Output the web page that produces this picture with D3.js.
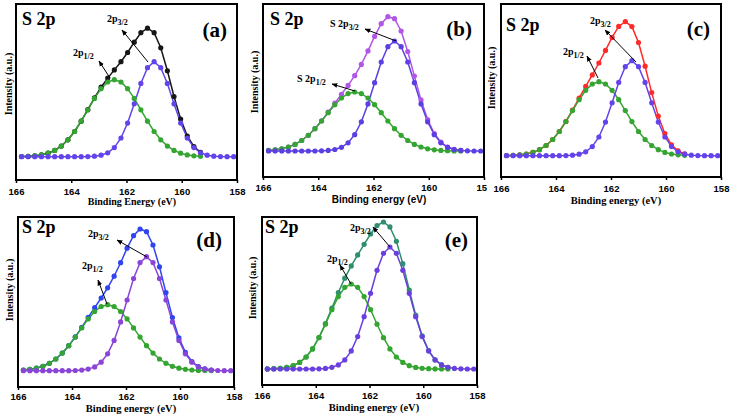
<!DOCTYPE html>
<html>
<head>
<meta charset="utf-8">
<script src="https://cdn.jsdelivr.net/npm/d3@7"></script>
<style>
  body { margin: 0; background: #fff; }
  svg { display: block; }
</style>
</head>
<body>
<div id="chart"></div>
<script>
// Binding energy grid (eV), shared by every fit
var energy = [165.8, 165.56, 165.32, 165.08, 164.84, 164.6, 164.36, 164.12, 163.88, 163.64,
  163.4, 163.16, 162.92, 162.68, 162.44, 162.2, 161.96, 161.72, 161.48, 161.24,
  161.0, 160.76, 160.52, 160.28, 160.04, 159.8, 159.56, 159.32, 159.08, 158.84,
  158.6, 158.36, 158.12];

var xTicks = [166, 164, 162, 160, 158];
var panelLabels = ["(a)", "(b)", "(c)", "(d)", "(e)"];

// (a) S 2p1/2, S 2p3/2 and envelope (intensity above background, a.u.)
var a12 = [0.2, 0.4, 0.9, 1.8, 3.5, 6.3, 10.6, 16.9, 25.2, 35.5, 46.9, 58.3, 68.0, 74.7, 77,
  74.7, 68.0, 58.3, 46.9, 35.5, 25.2, 16.9, 10.6, 6.3, 3.5, 1.8, 0.9, 0.4];
var a32 = [0, 0, 0, 0, 0, 0, 0, 0, 0, 0, 0.1, 0.5, 1.5, 3.9, 9.1, 18.7, 33.6, 52.9, 73.3, 89.0,
  95, 89.0, 73.3, 52.9, 33.6, 18.7, 9.1, 3.9, 1.5, 0.5, 0.1, 0, 0];
var aEnv = [0.2, 0.4, 0.9, 1.8, 3.5, 6.3, 10.6, 16.9, 25.2, 35.5, 47.0, 58.8, 69.5, 78.6, 86.8,
  95.0, 104.2, 114.5, 124.0, 128.5, 124.0, 108.9, 85.9, 60.2, 37.6, 20.7, 10.1, 4.3];

// (b)
var b12 = [0.6, 1.2, 2.2, 4.0, 6.6, 10.5, 15.7, 22.3, 30.0, 38.3, 46.3, 53.0, 57.4, 59, 57.4,
  53.0, 46.3, 38.3, 30.0, 22.3, 15.7, 10.5, 6.6, 4.0, 2.2, 1.2, 0.6, 0.3, 0.1, 0.1];
var b32 = [0, 0, 0, 0, 0, 0, 0, 0, 0.2, 0.6, 1.5, 3.7, 8.2, 16.3, 29.2, 47.1, 68.3, 89.0, 104.3, 110,
  104.3, 89.0, 68.3, 47.1, 29.2, 16.3, 8.2, 3.7, 1.5, 0.6, 0.2, 0, 0];
var bEnv = [0.6, 1.2, 2.2, 4.0, 6.6, 10.5, 15.7, 22.3, 30.2, 38.9, 47.8, 56.7, 65.6, 75.3, 86.6,
  100.1, 114.6, 127.3, 134.3, 132.3, 120.0, 99.5, 74.9, 51.1, 31.4, 17.5, 8.8, 4.0, 1.6, 0.7];

// (c)
var c12 = [0.2, 0.4, 0.9, 1.7, 3.3, 6.0, 10.2, 16.2, 24.2, 34.1, 45.1, 56.0, 65.4, 71.7, 74,
  71.7, 65.4, 56.0, 45.1, 34.1, 24.2, 16.2, 10.2, 6.0, 3.3, 1.7, 0.9, 0.4];
var c32 = [0, 0, 0, 0, 0, 0, 0, 0, 0, 0.1, 0.5, 1.5, 3.9, 9.1, 18.7, 33.6, 52.9, 73.3, 89.0, 95,
  89.0, 73.3, 52.9, 33.6, 18.7, 9.1, 3.9, 1.5, 0.5, 0.1, 0, 0, 0];
var cEnv = [0.2, 0.4, 0.9, 1.7, 3.3, 6.0, 10.2, 16.2, 24.2, 34.2, 45.6, 57.5, 69.3, 80.8, 92.7,
  105.3, 118.3, 129.3, 134.1, 129.1, 113.2, 89.5, 63.1, 39.6, 22.0, 10.8, 4.8, 1.9];

// (d)
var d12 = [0.7, 1.4, 2.5, 4.4, 7.4, 11.7, 17.6, 25.0, 33.6, 42.8, 51.8, 59.2, 64.2, 66, 64.2,
  59.2, 51.8, 42.8, 33.6, 25.0, 17.6, 11.7, 7.4, 4.4, 2.5, 1.4, 0.7, 0.3, 0.2, 0.1];
var d32 = [0, 0, 0, 0, 0, 0, 0, 0, 0.2, 0.6, 1.6, 3.8, 8.5, 16.9, 30.3, 48.8, 70.7, 92.2, 108.1, 114,
  108.1, 92.2, 70.7, 48.8, 30.3, 16.9, 8.5, 3.8, 1.6, 0.6, 0.2, 0, 0];
var dEnv = [0.7, 1.4, 2.5, 4.4, 7.4, 11.7, 17.6, 25.0, 33.8, 43.4, 53.4, 63.0, 72.7, 82.9, 94.5,
  108.0, 122.5, 135.0, 141.7, 139.0, 125.7, 103.9, 78.1, 53.2, 32.8, 18.3, 9.2, 4.1, 1.8, 0.7];

// (e)
var e12 = [0.1, 0.3, 0.7, 1.6, 3.3, 6.6, 12.0, 20.1, 31.3, 44.8, 59.3, 72.4, 81.7, 85, 81.7,
  72.4, 59.3, 44.8, 31.3, 20.1, 12.0, 6.6, 3.3, 1.6, 0.7, 0.3, 0.1, 0, 0];
var e32 = [0, 0, 0, 0, 0, 0, 0, 0, 0.2, 0.6, 1.7, 4.1, 9.1, 18.1, 32.4, 52.3, 75.7, 98.7, 115.7, 122,
  115.7, 98.7, 75.7, 52.3, 32.4, 18.1, 9.1, 4.1, 1.7, 0.6, 0.2, 0, 0];
var eEnv = [0.1, 0.3, 0.7, 1.6, 3.3, 6.6, 12.0, 20.1, 31.5, 45.4, 61.0, 76.5, 90.8, 103.1, 114.1,
  124.7, 135.0, 143.5, 147.0, 142.1, 127.7, 105.3, 79.0, 53.9, 33.1, 18.4, 9.2, 4.1, 1.7];

var serif = "'Liberation Serif', 'DejaVu Serif', serif";
var sans = "'Liberation Sans', Arial, sans-serif";
var green = "#33a530";

// layout of each panel (pixels) and its colours
var panels = [
  { p12: a12, p32: a32, env: aEnv, envColor: "#161616", p32Color: "#6343ec",
    x0: 16, x1: 237, y0: 4, y1: 180, yDomain: [-23.3, 152.7],
    tickY: 195, titleY: 205, titleX: 132, title: "Binding Energy (eV)", titleFont: serif, titleSize: 10,
    yTitleX: 12, yTitleY: 84, sX: 22, sY: 25, labX: 227, labY: 37, prefix: "",
    t32: [107, 22], ar32: [[148, 62], [122, 30]], t12: [73, 56], ar12: [[110, 78], [99, 61]] },
  { p12: b12, p32: b32, env: bEnv, envColor: "#b256e8", p32Color: "#5b3fe2",
    x0: 263, x1: 484, y0: 4, y1: 177, yDomain: [-26, 147],
    tickY: 191, titleY: 203, titleX: 379, title: "Binding energy (eV)", titleFont: sans, titleSize: 10,
    yTitleX: 258, yTitleY: 82, sX: 270, sY: 25, labX: 472, labY: 36, prefix: "S ",
    t32: [330, 27], ar32: [[396, 41], [365, 29]], t12: [297, 82], ar12: [[355, 91], [332, 84]] },
  { p12: c12, p32: c32, env: cEnv, envColor: "#ff2a2a", p32Color: "#6343ec",
    x0: 501, x1: 721, y0: 4, y1: 177, yDomain: [-21.3, 151.7],
    tickY: 192, titleY: 204, titleX: 616, title: "Binding energy (eV)", titleFont: serif, titleSize: 10.5,
    yTitleX: 495, yTitleY: 78, sX: 506, sY: 31, labX: 710, labY: 36, prefix: "",
    t32: [590, 24], ar32: [[636, 62], [605, 30]], t12: [563, 55], ar12: [[598, 78], [587, 56]] },
  { p12: d12, p32: d32, env: dEnv, envColor: "#3045f0", p32Color: "#8a45d8",
    x0: 18, x1: 234, y0: 217, y1: 387, yDomain: [-16.3, 153.7],
    tickY: 400, titleY: 412, titleX: 131, title: "Binding energy (eV)", titleFont: serif, titleSize: 10.5,
    yTitleX: 13, yTitleY: 290, sX: 22, sY: 233, labX: 222, labY: 247, prefix: "",
    t32: [88, 237], ar32: [[147, 257], [117, 240]], t12: [82, 269], ar12: [[107, 304], [98, 280]] },
  { p12: e12, p32: e32, env: eEnv, envColor: "#2f8f6c", p32Color: "#6a3fe0",
    x0: 262, x1: 477, y0: 217, y1: 385, yDomain: [-16, 152],
    tickY: 399, titleY: 411, titleX: 374, title: "Binding energy (eV)", titleFont: serif, titleSize: 10.5,
    yTitleX: 256, yTitleY: 288, sX: 265, sY: 233, labX: 468, labY: 247, prefix: "",
    t32: [350, 231], ar32: [[390, 247], [373, 227]], t12: [327, 262], ar12: [[351, 284], [340, 265]] }
];

var svg = d3.select("#chart")
  .append("svg")
  .attr("width", 730)
  .attr("height", 417);

svg.append("defs").append("marker")
  .attr("id", "arrow")
  .attr("viewBox", "0 0 10 10")
  .attr("refX", 9)
  .attr("refY", 5)
  .attr("markerWidth", 6)
  .attr("markerHeight", 6)
  .attr("orient", "auto")
  .append("path")
  .attr("d", "M0,1 L10,5 L0,9 Z")
  .attr("fill", "#000");

panels.forEach(function(p, idx) {
  var g = svg.append("g");

  // panel (c) image sits over the right edge of (b)
  if (idx === 2) {
    g.append("rect").attr("x", 487).attr("y", 0).attr("width", 243).attr("height", 210).attr("fill", "#fff");
  }

  var x = d3.scaleLinear().domain([166, 158]).range([p.x0, p.x1]);
  var y = d3.scaleLinear().domain(p.yDomain).range([p.y1, p.y0]);

  var line = d3.line()
    .x(function(d, i) { return x(energy[i]); })
    .y(function(d) { return y(d); });

  var series = [
    { values: p.env, color: p.envColor },
    { values: p.p12, color: green },
    { values: p.p32, color: p.p32Color }
  ];

  series.forEach(function(s) {
    g.append("path")
      .attr("d", line(s.values))
      .attr("fill", "none")
      .attr("stroke", s.color)
      .attr("stroke-width", 1.5);
  });

  series.forEach(function(s) {
    g.selectAll(null)
      .data(s.values)
      .enter()
      .append("circle")
      .attr("cx", function(d, i) { return x(energy[i]); })
      .attr("cy", function(d) { return y(d); })
      .attr("r", 2.6)
      .attr("fill", s.color);
  });

  // x axis
  var axis = g.append("g")
    .attr("transform", "translate(0," + p.y1 + ")")
    .call(d3.axisBottom(x).tickValues(xTicks).tickSize(3).tickPadding(2).tickFormat(d3.format("d")));
  axis.select(".domain").remove();
  axis.selectAll("line").attr("stroke", "#000").attr("stroke-width", 1.5);
  axis.selectAll("text")
    .attr("y", null).attr("dy", null)
    .attr("transform", "translate(0," + (p.tickY - p.y1) + ")")
    .style("font-family", sans)
    .style("font-weight", "bold")
    .style("font-size", "9.5px")
    .attr("fill", "#000");

  // frame
  g.append("rect")
    .attr("x", p.x0).attr("y", p.y0)
    .attr("width", p.x1 - p.x0).attr("height", p.y1 - p.y0)
    .attr("fill", "none")
    .attr("stroke", "#000")
    .attr("stroke-width", 2);

  g.append("text")
    .attr("x", p.titleX).attr("y", p.titleY)
    .attr("text-anchor", "middle")
    .style("font-family", p.titleFont)
    .style("font-weight", "bold")
    .style("font-size", p.titleSize + "px")
    .text(p.title);

  g.append("text")
    .attr("transform", "translate(" + p.yTitleX + "," + p.yTitleY + ") rotate(-90)")
    .attr("text-anchor", "middle")
    .style("font-family", serif)
    .style("font-weight", "bold")
    .style("font-size", "10px")
    .text("Intensity (a.u.)");

  g.append("text")
    .attr("x", p.sX).attr("y", p.sY)
    .style("font-family", serif)
    .style("font-weight", "bold")
    .style("font-size", "18px")
    .text("S 2p");

  g.append("text")
    .attr("x", p.labX).attr("y", p.labY)
    .attr("text-anchor", "end")
    .style("font-family", serif)
    .style("font-weight", "bold")
    .style("font-size", "21px")
    .text(panelLabels[idx]);

  // peak annotations
  [[p.t32, p.ar32, "3/2"], [p.t12, p.ar12, "1/2"]].forEach(function(a) {
    var t = g.append("text")
      .attr("x", a[0][0]).attr("y", a[0][1])
      .style("font-family", serif)
      .style("font-weight", "bold")
      .style("font-size", "10px");
    t.append("tspan").text(p.prefix + "2p");
    t.append("tspan").attr("dy", 3).style("font-size", "8px").text(a[2]);

    g.append("line")
      .attr("x1", a[1][0][0]).attr("y1", a[1][0][1])
      .attr("x2", a[1][1][0]).attr("y2", a[1][1][1])
      .attr("stroke", "#000")
      .attr("stroke-width", 1)
      .attr("marker-end", "url(#arrow)");
  });
});
</script>
</body>
</html>
